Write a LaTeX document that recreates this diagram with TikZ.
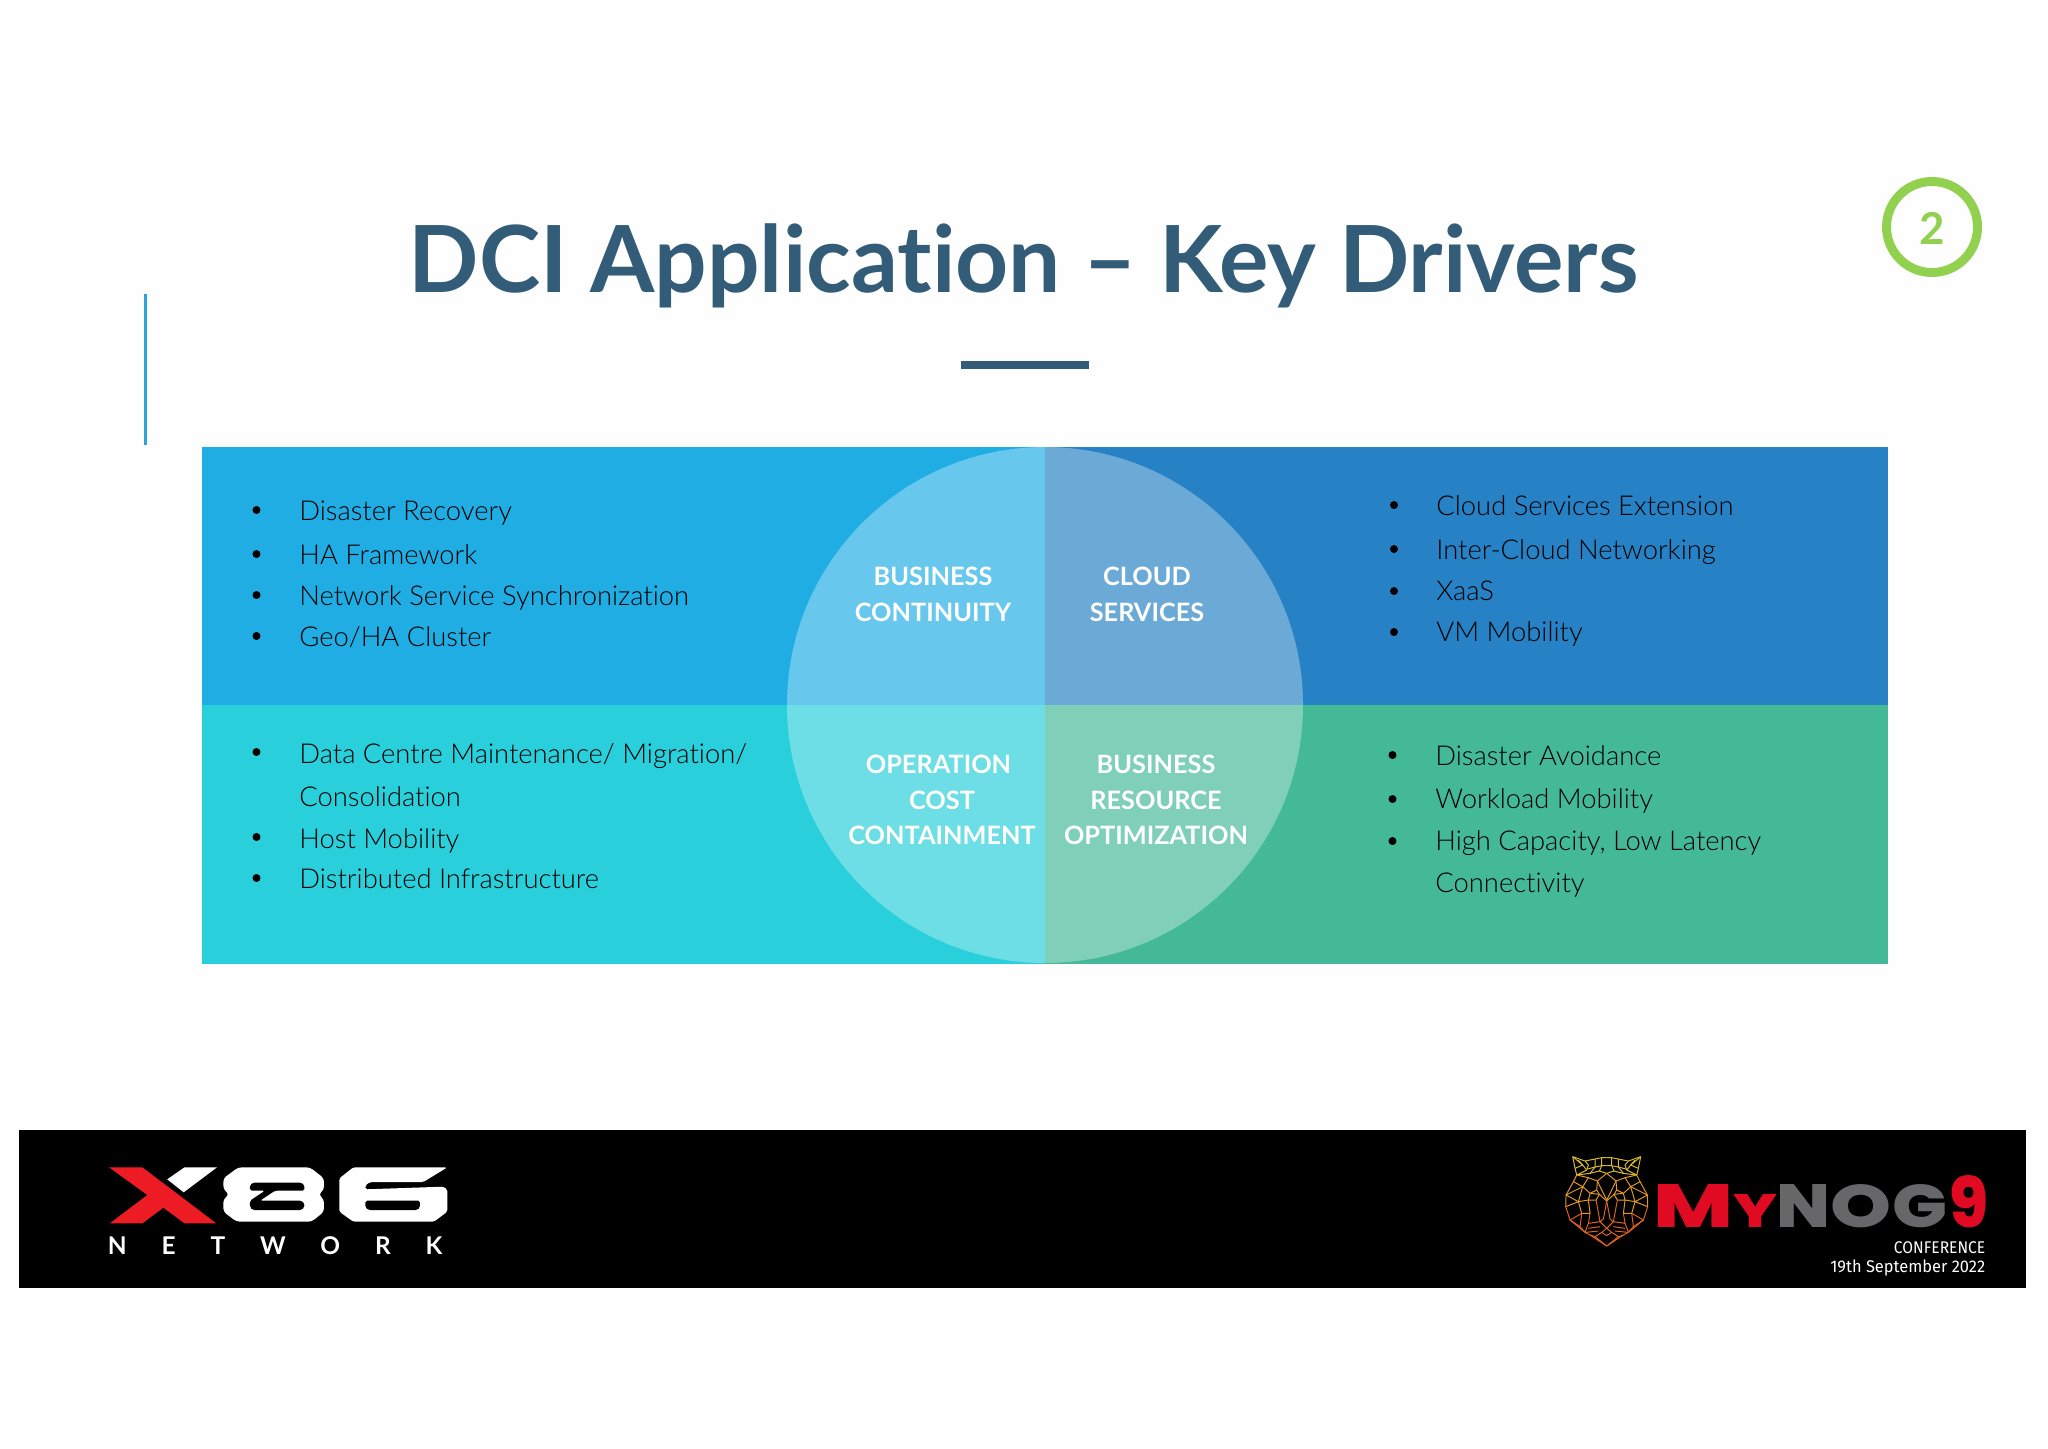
\documentclass[tikz,border=0pt]{standalone}
\usepackage{fontspec}
\usepackage{graphicx}
\setmainfont{Lato}[Ligatures=NoCommon]
\newfontfamily\listfont{Lato Light}[Ligatures=NoCommon]
\newfontfamily\logofont{Poppins ExtraBold}
\newfontfamily\smallfont{Fira Sans}
\newfontfamily\netfont{Lato}[LetterSpace=143,BoldFont=Lato Bold]
\definecolor{pagewhite}{HTML}{FEFEFE}
\definecolor{titleblue}{HTML}{335C78}
\definecolor{edgeblue}{HTML}{2AA5DC}
\definecolor{ringgreen}{HTML}{92D050}
\definecolor{skyblue}{HTML}{1FADE4}
\definecolor{deepblue}{HTML}{2681C5}
\definecolor{aquablue}{HTML}{29CFDA}
\definecolor{seagreen}{HTML}{44B997}
\definecolor{logored}{HTML}{ED1C24}
\definecolor{nogred}{HTML}{E10A23}
\definecolor{noggrey}{HTML}{67676A}
\definecolor{tigertop}{HTML}{D8BC2C}
\definecolor{tigermid}{HTML}{E29A24}
\definecolor{tigerlow}{HTML}{E2651E}
\tikzset{
  listtext/.style={inner sep=0pt,anchor=base west,text=black,font=\listfont\fontsize{15.58}{18}\selectfont},
  circletext/.style={inner sep=0pt,anchor=base,text=white,font=\bfseries\fontsize{14.4}{18}\selectfont},
  logotext/.style={inner sep=0pt,anchor=base west},
  smalltext/.style={inner sep=0pt,anchor=base east,text=white,font=\smallfont\fontsize{9.64}{12}\selectfont},
  tigerline/.style={line width=.55pt,line join=round}
}
\newcommand{\tigerhalf}{%
  \draw[tigerline,tigertop] (102,35) -- (65,48) -- (55,60) -- (60,75) -- (90,90) -- (95,70) -- cycle;
  \draw[tigerline,tigertop] (95,70) -- (72,60) -- (85,45);
  \draw[tigerline,tigertop] (72,60) -- (60,75);
  \draw[tigerline,tigertop] (102,35) -- (72,60);
  \draw[tigerline,tigertop] (65,48) -- (35,42) -- (15,38) -- (0,38);
  \draw[tigerline,tigertop] (58,72) -- (35,66) -- (15,62) -- (0,62);
  \draw[tigerline,tigertop] (35,42) -- (35,66) -- (50,85) -- (90,90);
  \draw[tigerline,tigertop] (15,38) -- (15,62) -- (22,78) -- (0,85);
  \draw[tigerline,tigertop] (22,78) -- (50,85);
  \draw[tigerline,tigermid] (0,85) -- (28,108) -- (15,135) -- (0,165);
  \draw[tigerline,tigermid] (90,90) -- (100,110) -- (122,150) -- (123,185);
  \draw[tigerline,tigermid] (28,108) -- (55,98) -- (90,90);
  \draw[tigerline,tigermid] (55,98) -- (72,125) -- (50,145) -- (30,135) -- (28,108);
  \draw[tigerline,tigermid] (72,125) -- (100,110);
  \draw[tigerline,tigermid] (72,125) -- (122,150) -- (85,170) -- (123,185);
  \draw[tigerline,tigermid] (50,145) -- (22,148) -- (0,168);
  \draw[tigerline,tigermid] (30,135) -- (22,148) -- (32,165) -- (55,165) -- (50,145);
  \draw[tigerline,tigermid] (72,125) -- (85,170) -- (55,165);
  \draw[tigerline,tigermid] (85,170) -- (75,205) -- (50,205) -- (55,165);
  \draw[tigerline,tigerlow] (123,185) -- (110,225) -- (65,262) -- (50,270) -- (0,303);
  \draw[tigerline,tigerlow] (75,205) -- (110,225) -- (80,245) -- (75,205);
  \draw[tigerline,tigerlow] (80,245) -- (65,262) -- (55,235) -- (50,205);
  \draw[tigerline,tigerlow] (32,165) -- (20,230) -- (55,235);
  \draw[tigerline,tigerlow] (0,168) -- (10,222) -- (20,230) -- (0,250);
  \draw[tigerline,tigerlow] (20,245) -- (55,250);
  \draw[tigerline,tigerlow] (25,258) -- (62,262);
  \draw[tigerline,tigerlow] (0,250) -- (15,262) -- (35,275) -- (0,303);
  \draw[tigerline,tigerlow] (15,262) -- (0,272);
  \draw[tigerline,tigerlow] (35,275) -- (50,270);
}
\begin{document}
\begin{tikzpicture}[x=0.02cm,y=-0.02cm]
\fill[pagewhite] (0,0) rectangle (2048,1448);

\node[inner sep=0pt,anchor=base,text=titleblue,font=\bfseries\fontsize{52.7}{60}\selectfont] (title) at (1023.5,292) {DCI Application -- Key Drivers};
\fill[titleblue] (960.5,361) rectangle (1089,369);
\fill[edgeblue] (143.5,294) rectangle (146.5,444.5);

\draw[ringgreen,line width=5.1pt] (1932,227) circle (45.5);
\node[inner sep=0pt,text=ringgreen,font=\bfseries\fontsize{25}{30}\selectfont] (pagenum) at (1932,228) {2};

\fill[skyblue] (202,447) rectangle (1045,705);
\fill[deepblue] (1045,447) rectangle (1888,705);
\fill[aquablue] (202,705) rectangle (1045,963.5);
\fill[seagreen] (1045,705) rectangle (1888,963.5);
\fill[white,opacity=.32] (1045,705) circle (258);

\filldraw (256.5,510) circle (3.6);
\filldraw (256.5,554) circle (3.6);
\filldraw (256.5,595) circle (3.6);
\filldraw (256.5,636) circle (3.6);
\filldraw (256.5,752) circle (3.6);
\filldraw (256.5,837) circle (3.6);
\filldraw (256.5,878) circle (3.6);
\filldraw (1394,505) circle (3.6);
\filldraw (1394,549) circle (3.6);
\filldraw (1394,591) circle (3.6);
\filldraw (1394,632) circle (3.6);
\filldraw (1392.5,755) circle (3.6);
\filldraw (1392.5,799) circle (3.6);
\filldraw (1392.5,841) circle (3.6);

\node[listtext] (dr) at (299,520) {Disaster Recovery};
\node[listtext] (ha) at (299,564) {HA Framework};
\node[listtext] (nss) at (299,605) {Network Service Synchronization};
\node[listtext] (geo) at (299,646) {Geo/HA Cluster};
\node[listtext] (dcm) at (299,763) {Data Centre Maintenance/ Migration/};
\node[listtext] (cons) at (299,806) {Consolidation};
\node[listtext] (host) at (299,848) {Host Mobility};
\node[listtext] (dist) at (299,888) {Distributed Infrastructure};
\node[listtext] (cse) at (1436,515) {Cloud Services Extension};
\node[listtext] (icn) at (1436,559) {Inter-Cloud Networking};
\node[listtext] (xaas) at (1436,600) {XaaS};
\node[listtext] (vmm) at (1436,641) {VM Mobility};
\node[listtext] (da) at (1435,765) {Disaster Avoidance};
\node[listtext] (wm) at (1435,808) {Workload Mobility};
\node[listtext] (hc) at (1435,850) {High Capacity, Low Latency};
\node[listtext] (conn) at (1435,892) {Connectivity};

\node[circletext] (bc1) at (933,585) {BUSINESS};
\node[circletext] (bc2) at (933,621) {CONTINUITY};
\node[circletext] (cs1) at (1147,585) {CLOUD};
\node[circletext] (cs2) at (1147,621) {SERVICES};
\node[circletext] (oc1) at (938.5,773) {OPERATION};
\node[circletext] (oc2) at (942,809) {COST};
\node[circletext] (oc3) at (942,844) {CONTAINMENT};
\node[circletext] (br1) at (1156,773) {BUSINESS};
\node[circletext] (br2) at (1156,809) {RESOURCE};
\node[circletext] (br3) at (1156,844) {OPTIMIZATION};

\fill[black] (19,1130) rectangle (2026,1288);

\begin{scope}[shift={(0,1100)},xscale=.3827,yscale=.3333]
\fill[logored] (285,202) -- (372,202) -- (565,370) -- (482,370) -- (427,323) -- (372,370) -- (287,370) -- (385,285) -- cycle;
\fill[white] (437,238) -- (482,202) -- (567,202) -- (480,277) -- cycle;
\end{scope}

\begin{scope}[shift={(210,1160)},scale=.3333]
\fill[white,rounded corners=2pt] (85,22) -- (300,22) -- (342,55) -- (342,90) -- (325,103) -- (342,118) -- (342,155) -- (305,185) -- (80,185) -- (40,155) -- (40,118) -- (58,103) -- (40,88) -- (40,55) -- cycle;
\fill[black,rounded corners=1pt] (128,68) -- (275,68) -- (283,75) -- (283,92) -- (195,92) -- (150,122) -- (275,122) -- (283,130) -- (283,142) -- (275,150) -- (128,150) -- (120,142) -- (120,122) -- (165,92) -- (120,92) -- (120,75) -- cycle;
\fill[white,rounded corners=1pt] (430,22) -- (712,22) -- (640,66) -- (480,66) -- (466,76) -- (466,88) -- (700,80) -- (712,88) -- (712,155) -- (672,185) -- (430,185) -- (388,155) -- (388,55) -- cycle;
\fill[black,rounded corners=1pt] (466,122) -- (630,122) -- (630,142) -- (622,150) -- (475,150) -- (466,142) -- cycle;
\end{scope}

\node[logotext,text=white,font=\netfont\bfseries\fontsize{13.9}{16}\selectfont] (network) at (107.5,1254.5) {NETWORK};

\begin{scope}[shift={(1606.7,1145)},scale=.3333]
\tigerhalf
\begin{scope}[xscale=-1]
\tigerhalf
\end{scope}
\end{scope}

\node[logotext,text=nogred,font=\logofont] (mym) at (1653,1227) {\resizebox{1.6cm}{.86cm}{M}};
\node[logotext,text=nogred,font=\logofont] (myy) at (1733,1227) {\resizebox{.88cm}{.66cm}{Y}};
\node[logotext,text=noggrey,font=\logofont] (nogn) at (1776.5,1227) {\resizebox{1.08cm}{.86cm}{N}};
\node[logotext,text=noggrey,font=\logofont] (nogo) at (1830,1227) {\resizebox{1.22cm}{.86cm}{O}};
\node[logotext,text=noggrey,font=\logofont] (nogg) at (1892,1227) {\resizebox{1.1cm}{.86cm}{G}};
\node[logotext,text=nogred,font=\logofont] (nine) at (1949,1227) {\resizebox{.78cm}{1.04cm}{9}};

\node[smalltext,xscale=.92] (conf) at (1985.5,1253) {CONFERENCE};
\node[smalltext,xscale=.97] (date) at (1985.5,1272) {19th September 2022};
\end{tikzpicture}
\end{document}
